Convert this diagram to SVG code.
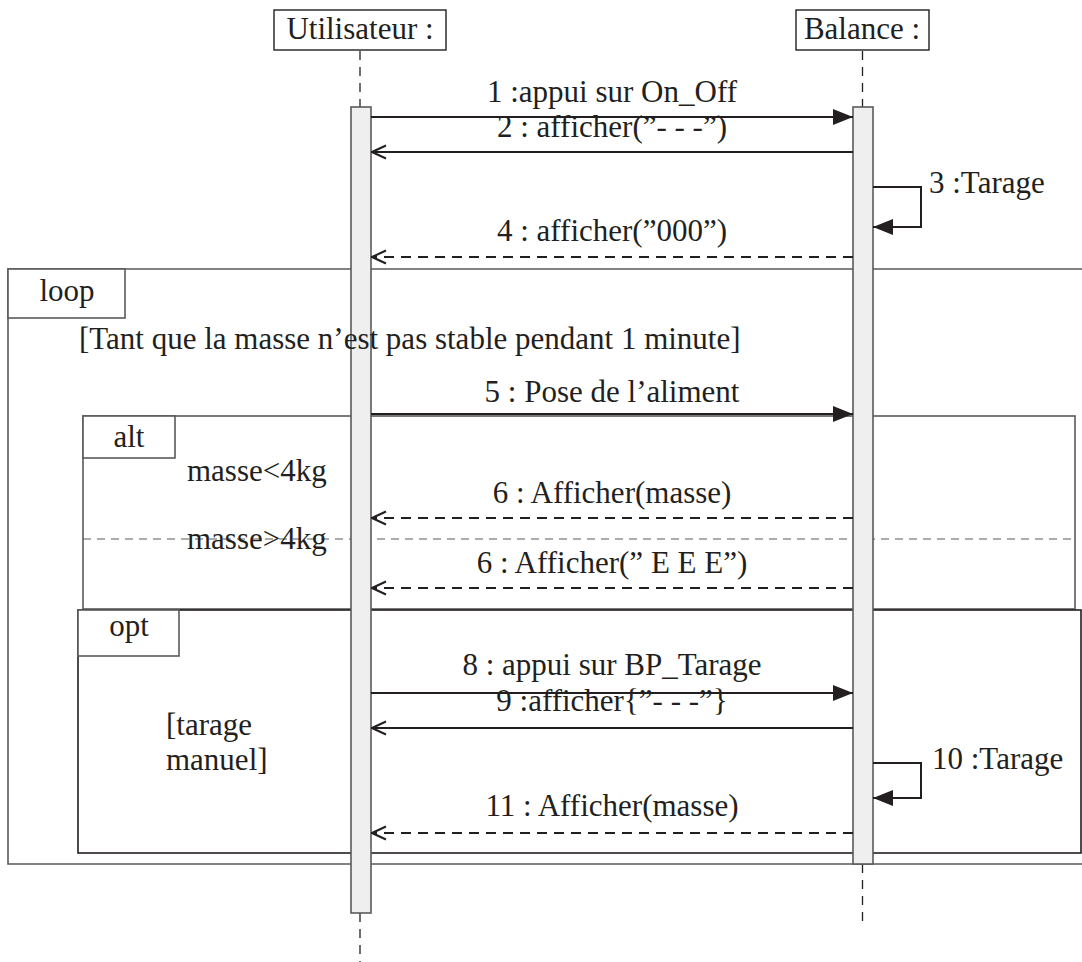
<svg xmlns="http://www.w3.org/2000/svg" width="1082" height="962" viewBox="0 0 1082 962">
  <style>
    text { font-family: "Liberation Serif", "Times New Roman", serif; font-size: 31px; fill: #231f20; }
    .mid { text-anchor: middle; }
    .frame { fill: none; stroke: #5a5a5a; stroke-width: 1.6; }
    .frame-dark { fill: none; stroke: #231f20; stroke-width: 1.6; }
    .tag { fill: #fff; stroke: #5a5a5a; stroke-width: 1.6; }
    .sep { stroke: #5a5a5a; stroke-width: 1.2; stroke-dasharray: 8 6; fill: none; }
    .head { fill: #fff; stroke: #231f20; stroke-width: 1.4; }
    .life { stroke: #231f20; stroke-width: 1.3; stroke-dasharray: 9 7; fill: none; }
    .bar { fill: #efefef; stroke: #5a5a5a; stroke-width: 1.6; }
    .msg { stroke: #231f20; stroke-width: 2; fill: none; }
    .call { marker-end: url(#filled); }
    .reply { marker-end: url(#open); }
    .ret { stroke-dasharray: 10 7; }
  </style>
  <defs>
    <marker id="filled" viewBox="0 0 20 16" refX="20" refY="8" markerWidth="20" markerHeight="16" markerUnits="userSpaceOnUse" orient="auto">
      <path d="M0,0 L20,8 L0,16 Z" fill="#231f20"/>
    </marker>
    <marker id="open" viewBox="0 0 16 16" refX="15" refY="8" markerWidth="16" markerHeight="16" markerUnits="userSpaceOnUse" orient="auto">
      <path d="M1,1.5 L15,8 L1,14.5" fill="none" stroke="#231f20" stroke-width="2"/>
    </marker>
  </defs>

  <!-- combined fragments (borders sit under the activation bars) -->
  <g id="loop">
    <path class="frame" d="M1082,269 H8 V864 H1082"/>
    <rect class="tag" x="8" y="269" width="117" height="49"/>
    <text class="mid" x="67" y="301">loop</text>
  </g>
  <g id="alt">
    <rect class="frame" x="83" y="416" width="992" height="193"/>
    <rect class="tag" x="83" y="416" width="92" height="42"/>
    <text class="mid" x="129" y="447">alt</text>
    <text x="187" y="481">masse&lt;4kg</text>
    <line class="sep" x1="83" y1="539" x2="1075" y2="539"/>
    <text x="187" y="549">masse&gt;4kg</text>
  </g>
  <g id="opt">
    <rect class="frame-dark" x="78" y="610" width="1003" height="243"/>
    <rect class="tag" x="78" y="610" width="101" height="46"/>
    <text class="mid" x="129" y="636">opt</text>
    <text x="166" y="735">[tarage</text>
    <text x="166" y="770">manuel]</text>
  </g>

  <!-- lifelines -->
  <g id="utilisateur">
    <rect class="head" x="274" y="10" width="172" height="40"/>
    <text class="mid" x="360" y="39">Utilisateur :</text>
    <line class="life" x1="360" y1="51" x2="360" y2="107"/>
    <line class="life" x1="360" y1="913" x2="360" y2="962"/>
    <rect class="bar" x="351" y="107" width="20" height="806"/>
  </g>
  <g id="balance">
    <rect class="head" x="796" y="10" width="133" height="40"/>
    <text class="mid" x="862" y="39">Balance :</text>
    <line class="life" x1="862.5" y1="51" x2="862.5" y2="107"/>
    <line class="life" x1="862.5" y1="864" x2="862.5" y2="922"/>
    <rect class="bar" x="853" y="107" width="20" height="757"/>
  </g>

  <!-- loop guard, printed over the activation bar -->
  <g id="loop-guard">
    <text x="79" y="349">[Tant que la masse n’est pas stable pendant 1 minute]</text>
  </g>

  <!-- messages -->
  <g id="messages">
    <line class="msg call" x1="371" y1="117" x2="853" y2="117"/>
    <text class="mid" x="612" y="102">1 :appui sur On_Off</text>

    <line class="msg reply" x1="853" y1="152" x2="372" y2="152"/>
    <text class="mid" x="612" y="137">2 : afficher(”- - -”)</text>

    <path class="msg call" d="M873,187 H921 V227 H873"/>
    <text x="929" y="193">3 :Tarage</text>

    <line class="msg reply ret" x1="853" y1="257" x2="372" y2="257"/>
    <text class="mid" x="612" y="241">4 : afficher(”000”)</text>

    <line class="msg call" x1="371" y1="414" x2="853" y2="414"/>
    <text class="mid" x="612" y="402">5 : Pose de l’aliment</text>

    <line class="msg reply ret" x1="853" y1="518" x2="372" y2="518"/>
    <text class="mid" x="612" y="503">6 : Afficher(masse)</text>

    <line class="msg reply ret" x1="853" y1="588" x2="372" y2="588"/>
    <text class="mid" x="612" y="573">6 : Afficher(” E E E”)</text>

    <line class="msg call" x1="371" y1="693" x2="853" y2="693"/>
    <text class="mid" x="612" y="675">8 : appui sur BP_Tarage</text>

    <line class="msg reply" x1="853" y1="728" x2="372" y2="728"/>
    <text class="mid" x="612" y="711">9 :afficher{”- - -”}</text>

    <path class="msg call" d="M873,763 H921 V798 H873"/>
    <text x="932" y="769">10 :Tarage</text>

    <line class="msg reply ret" x1="853" y1="833" x2="372" y2="833"/>
    <text class="mid" x="612" y="816">11 : Afficher(masse)</text>
  </g>
</svg>
